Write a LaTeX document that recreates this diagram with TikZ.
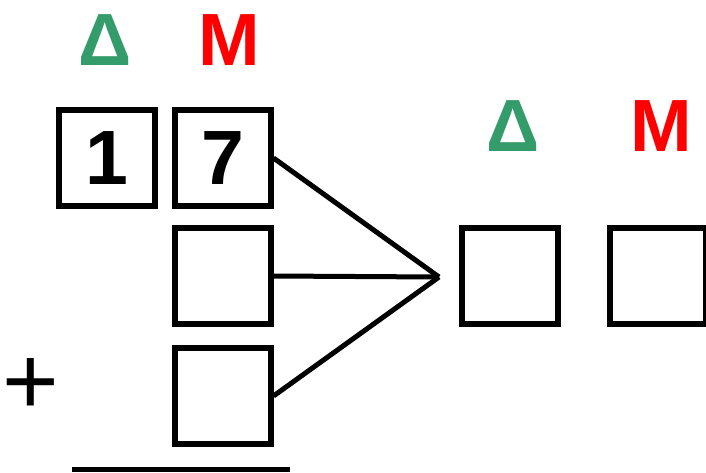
\documentclass[tikz,border=0pt]{standalone}
\usepackage{fontspec}
\newfontfamily\digitfont{Liberation Sans}
\usetikzlibrary{positioning}
\definecolor{deltagreen}{RGB}{52,155,107}
\definecolor{mred}{RGB}{255,0,0}

\begin{document}
\begin{tikzpicture}[
  x=1pt, y=-1pt,
  cell/.style={draw, line width=6pt, minimum size=96pt, inner sep=0pt,
               font=\digitfont\bfseries\fontsize{77}{77}\selectfont},
  head/.style={anchor=base, inner sep=0pt,
               font=\digitfont\bfseries\fontsize{74}{74}\selectfont},
  wire/.style={line width=5pt}
]
  \useasboundingbox (0,0) rectangle (706,472);

  % Left: the sum
  \node[head, text=deltagreen] (dleft) at (105,65) {Δ};
  \node[head, text=mred] (mleft) at (229.5,65) {M};
  \node[cell] (tens) at (107,158) {1};
  \node[cell] (units) at (222.5,158) {7};
  \node[cell] (second) at (222.5,276) {};
  \node[cell] (third) at (222.5,396) {};
  \node[inner sep=0pt, font=\digitfont\fontsize{97}{97}\selectfont] (plus) at (31,386) {+};
  \coordinate (rulestart) at (72,469.5);
  \coordinate (ruleend) at (290,469.5);
  \draw[line width=5pt] (rulestart) -- (ruleend);

  % Right: the result
  \node[head, text=deltagreen] (dright) at (513,151) {Δ};
  \node[head, text=mred] (mright) at (661.5,151) {M};
  \node[cell] (restens) at (510,276) {};
  \node[cell] (resunits) at (658,276) {};

  % Connectors
  \coordinate (meet) at (439,277);
  \draw[wire] (units.east) -- (meet);
  \draw[wire] (second.east) -- (meet);
  \draw[wire] (third.east) -- (meet);
\end{tikzpicture}
\end{document}
